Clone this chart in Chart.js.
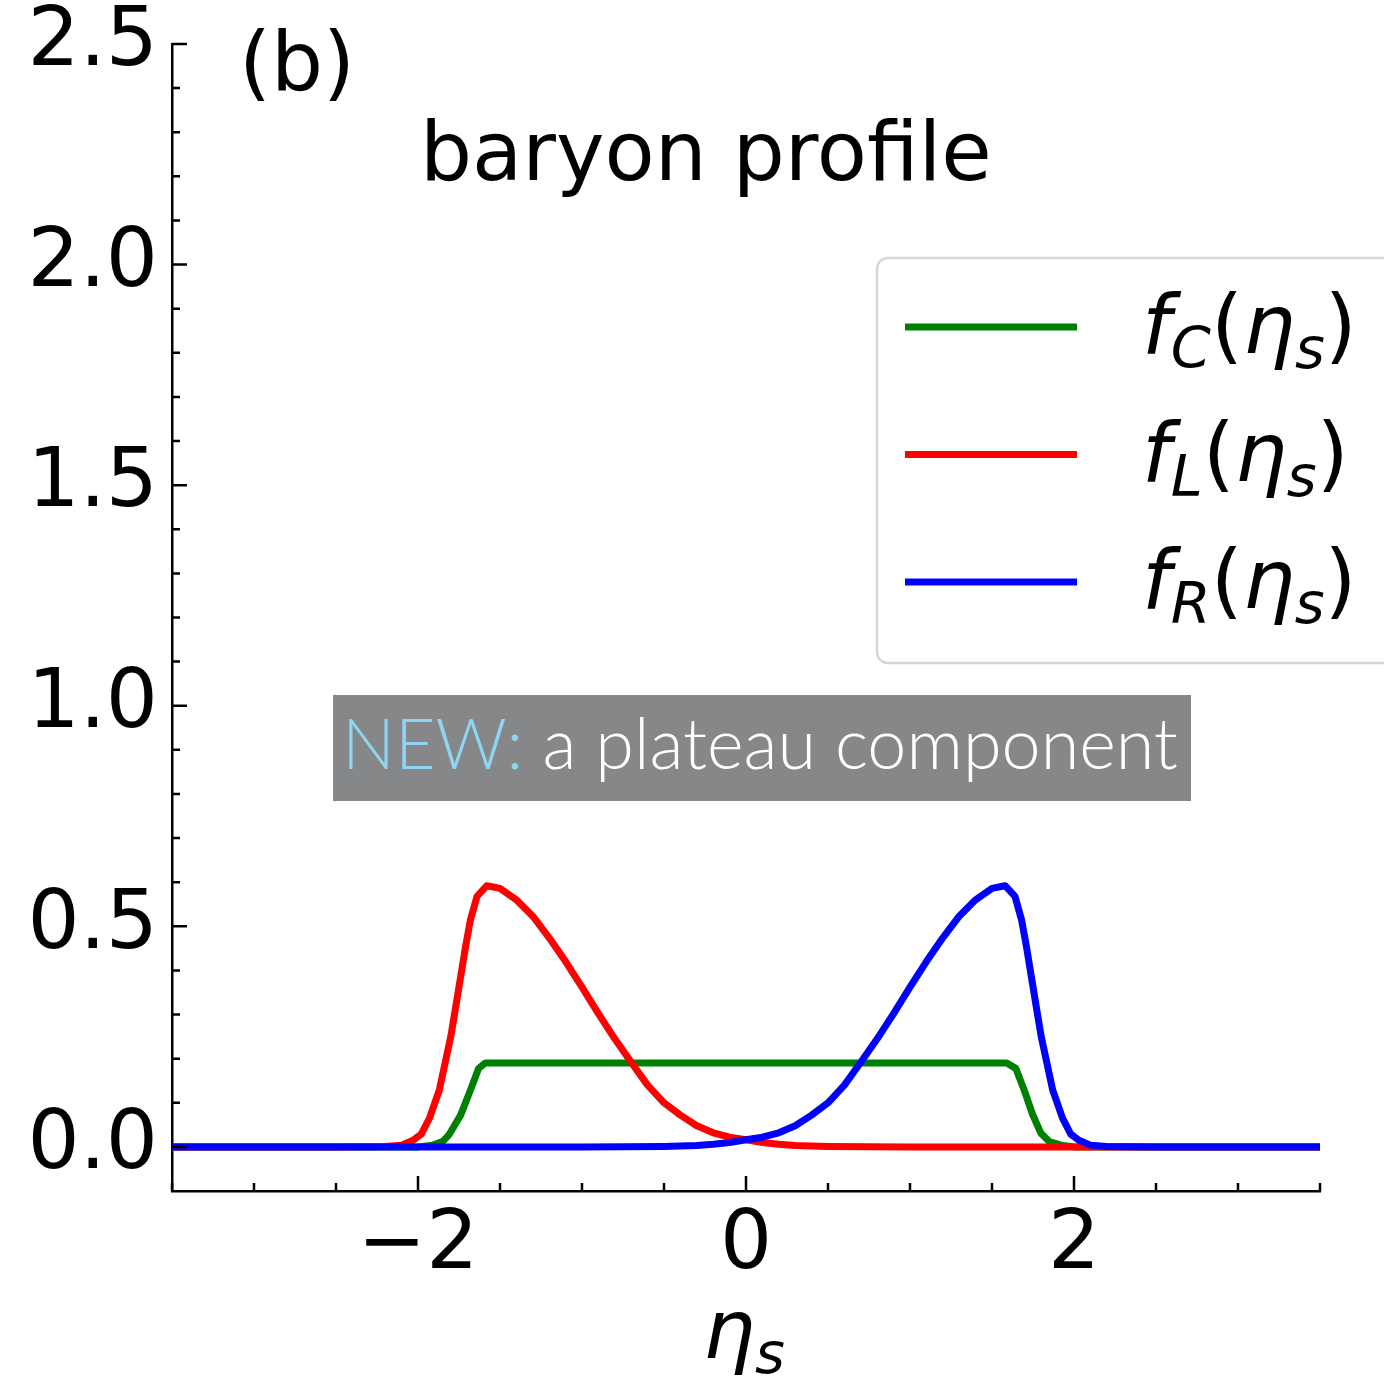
<!DOCTYPE html>
<html>
<head>
<meta charset="utf-8">
<script src="https://cdn.jsdelivr.net/npm/chart.js@4.4.1/dist/chart.umd.min.js"></script>
<style>
html,body{margin:0;padding:0;background:#fff;}
#wrap{width:1384px;height:1380px;position:relative;}
</style>
</head>
<body>
<div id="wrap"><canvas id="c" width="1384" height="1380"></canvas></div>
<script>
// ---- data ----
const etaC = [-3.5, -2.0, -1.91, -1.85, -1.81, -1.74, -1.68, -1.63, -1.59, 1.59, 1.645, 1.696, 1.747, 1.798, 1.849, 1.92, 2.0, 3.5];
const fC   = [0, 0, 0.004, 0.012, 0.028, 0.072, 0.129, 0.178, 0.19, 0.19, 0.178, 0.129, 0.074, 0.031, 0.012, 0.004, 0, 0];

const etaL = [-3.5, -2.5, -2.2, -2.1, -2.03, -1.98, -1.93, -1.87, -1.80, -1.76, -1.71, -1.68, -1.64, -1.58, -1.5, -1.4, -1.3, -1.2, -1.1, -1.0, -0.9, -0.8, -0.7, -0.6, -0.5, -0.4, -0.3, -0.2, -0.1, 0.0, 0.1, 0.2, 0.3, 0.5, 1.0, 3.5];
const fL   = [0, 0, 0.001, 0.004, 0.015, 0.029, 0.065, 0.129, 0.250, 0.340, 0.454, 0.515, 0.568, 0.592, 0.586, 0.560, 0.523, 0.474, 0.420, 0.362, 0.302, 0.245, 0.192, 0.140, 0.100, 0.072, 0.048, 0.032, 0.022, 0.016, 0.010, 0.006, 0.003, 0.001, 0, 0];

const etaR = [-3.5, -1.0, -0.5, -0.3, -0.2, -0.1, 0.0, 0.1, 0.2, 0.3, 0.4, 0.5, 0.6, 0.7, 0.8, 0.9, 1.0, 1.1, 1.2, 1.3, 1.4, 1.5, 1.58, 1.64, 1.68, 1.71, 1.76, 1.80, 1.87, 1.93, 1.98, 2.03, 2.1, 2.2, 2.5, 3.5];
const fR   = [0, 0, 0.001, 0.003, 0.006, 0.010, 0.016, 0.022, 0.032, 0.048, 0.072, 0.100, 0.140, 0.192, 0.245, 0.302, 0.362, 0.420, 0.474, 0.523, 0.560, 0.586, 0.592, 0.568, 0.515, 0.454, 0.340, 0.250, 0.129, 0.065, 0.029, 0.015, 0.004, 0.001, 0, 0];

const seriesSubs   = ['C', 'L', 'R'];
const seriesColors = ['#008000', '#ff0000', '#0000ff'];

const xMajorTicks = [-2, 0, 2];
const xMinorTicks = [-3.5, -3, -2.5, -1.5, -1, -0.5, 0.5, 1, 1.5, 2.5, 3, 3.5];
const yMajorTicks = [0, 0.5, 1.0, 1.5, 2.0, 2.5];
const yMinorTicks = [0.1, 0.2, 0.3, 0.4, 0.6, 0.7, 0.8, 0.9, 1.1, 1.2, 1.3, 1.4, 1.6, 1.7, 1.8, 1.9, 2.1, 2.2, 2.3, 2.4];

const panelLabel = '(b)';
const titleText  = 'baryon profile';
const noteHead   = 'NEW:';
const noteBody   = ' a plateau component';

// ---- helpers ----
const FONT = '"DejaVu Sans", "Liberation Sans", sans-serif';
function pts(xs, ys) { return xs.map((x, i) => ({ x: x, y: ys[i] })); }
function fmtX(v) { return String(v).replace('-', '\u2212'); }
function fmtY(v) { return Number(v).toFixed(1); }

function drawMath(ctx, parts, x, y, size) {
  ctx.textAlign = 'left';
  ctx.textBaseline = 'alphabetic';
  for (const p of parts) {
    const s = p.sub ? size * 0.7 : size;
    ctx.font = (p.it ? 'italic ' : '') + s + 'px ' + FONT;
    const dy = p.sub ? size * 0.18 : 0;
    ctx.fillText(p.t, x, y + dy);
    x += ctx.measureText(p.t).width;
  }
}
function labelParts(sub) {
  return [{ t: 'f', it: true }, { t: sub, it: true, sub: true }, { t: '(' },
          { t: '\u03b7', it: true }, { t: 's', it: true, sub: true }, { t: ')' }];
}

const decor = {
  id: 'decor',
  afterDraw(chart) {
    const ctx = chart.ctx;
    const xs = chart.scales.x, ys = chart.scales.y;
    const area = chart.chartArea;
    ctx.save();
    // inward ticks
    ctx.strokeStyle = '#000';
    ctx.lineWidth = 2.5;
    ctx.beginPath();
    xMajorTicks.forEach(v => { const p = xs.getPixelForValue(v); ctx.moveTo(p, area.bottom); ctx.lineTo(p, area.bottom - 15); });
    xMinorTicks.forEach(v => { const p = xs.getPixelForValue(v); ctx.moveTo(p, area.bottom); ctx.lineTo(p, area.bottom - 8); });
    yMajorTicks.forEach(v => { const p = ys.getPixelForValue(v); ctx.moveTo(area.left, p); ctx.lineTo(area.left + 15, p); });
    yMinorTicks.forEach(v => { const p = ys.getPixelForValue(v); ctx.moveTo(area.left, p); ctx.lineTo(area.left + 8, p); });
    ctx.stroke();

    ctx.fillStyle = '#000';
    ctx.textBaseline = 'alphabetic';
    ctx.textAlign = 'left';
    ctx.font = '82px ' + FONT;
    ctx.fillText(panelLabel, 239, 90);
    ctx.fillText(titleText, 420, 180);

    // x axis label eta_s
    drawMath(ctx, [{ t: '\u03b7', it: true }, { t: 's', it: true, sub: true }], 703, 1358, 82);

    // note box
    ctx.fillStyle = '#858788';
    ctx.fillRect(333, 695, 858, 106);
    let fs = 66;
    ctx.font = '300 ' + fs + 'px Lato, "Open Sans", sans-serif';
    const w = ctx.measureText(noteHead + noteBody).width;
    fs = fs * 836 / w;
    ctx.font = '300 ' + fs + 'px Lato, "Open Sans", sans-serif';
    ctx.fillStyle = '#8fd4f0';
    ctx.fillText(noteHead, 342, 769);
    const hw = ctx.measureText(noteHead).width;
    ctx.fillStyle = '#ffffff';
    ctx.fillText(noteBody, 342 + hw, 769);

    // legend
    ctx.beginPath();
    ctx.roundRect(877, 258, 530, 405, 11);
    ctx.fillStyle = 'rgba(255,255,255,0.8)';
    ctx.fill();
    ctx.strokeStyle = '#d6d6d6';
    ctx.lineWidth = 2.5;
    ctx.stroke();
    const rowY = [327, 454.5, 582];
    const baseY = [353, 481, 608];
    seriesSubs.forEach((s, i) => {
      const ds = chart.data.datasets[i];
      ctx.strokeStyle = ds.borderColor;
      ctx.lineWidth = 7;
      ctx.lineCap = 'butt';
      ctx.beginPath();
      ctx.moveTo(905, rowY[i]);
      ctx.lineTo(1077, rowY[i]);
      ctx.stroke();
      ctx.fillStyle = '#000';
      drawMath(ctx, labelParts(s), 1142, baseY[i], 82);
    });
    ctx.restore();
  }
};

const common = { showLine: true, pointRadius: 0, borderWidth: 7, fill: false, tension: 0, borderJoinStyle: 'round', borderCapStyle: 'butt' };
const datasets = [
  Object.assign({ label: 'f_C', data: pts(etaC, fC), borderColor: seriesColors[0], order: 3 }, common),
  Object.assign({ label: 'f_L', data: pts(etaL, fL), borderColor: seriesColors[1], order: 2 }, common),
  Object.assign({ label: 'f_R', data: pts(etaR, fR), borderColor: seriesColors[2], order: 1 }, common)
];

new Chart(document.getElementById('c').getContext('2d'), {
  type: 'scatter',
  data: { datasets: datasets },
  options: {
    responsive: false,
    animation: false,
    devicePixelRatio: 1,
    layout: { padding: { top: 44, right: 64, left: 0, bottom: 0 } },
    plugins: { legend: { display: false }, tooltip: { enabled: false }, title: { display: false } },
    scales: {
      x: {
        type: 'linear', min: -3.5, max: 3.5,
        afterBuildTicks: s => { s.ticks = xMajorTicks.map(v => ({ value: v })); },
        afterFit: s => { s.height = 189; s.paddingLeft = 0; s.paddingRight = 0; },
        grid: { display: false, drawTicks: false },
        border: { display: true, color: '#000', width: 2.5 },
        ticks: { font: { family: FONT, size: 82, lineHeight: 1.2 }, color: '#000', padding: 7, maxRotation: 0, autoSkip: false, callback: v => fmtX(v) }
      },
      y: {
        type: 'linear', min: -0.1, max: 2.5,
        afterBuildTicks: s => { s.ticks = yMajorTicks.map(v => ({ value: v })); },
        afterFit: s => { s.width = 172; s.paddingTop = 0; s.paddingBottom = 0; },
        grid: { display: false, drawTicks: false },
        border: { display: true, color: '#000', width: 2.5 },
        ticks: { font: { family: FONT, size: 82, lineHeight: 0.5 }, color: '#000', padding: 14, autoSkip: false, callback: v => fmtY(v) }
      }
    }
  },
  plugins: [decor]
});
</script>
</body>
</html>
